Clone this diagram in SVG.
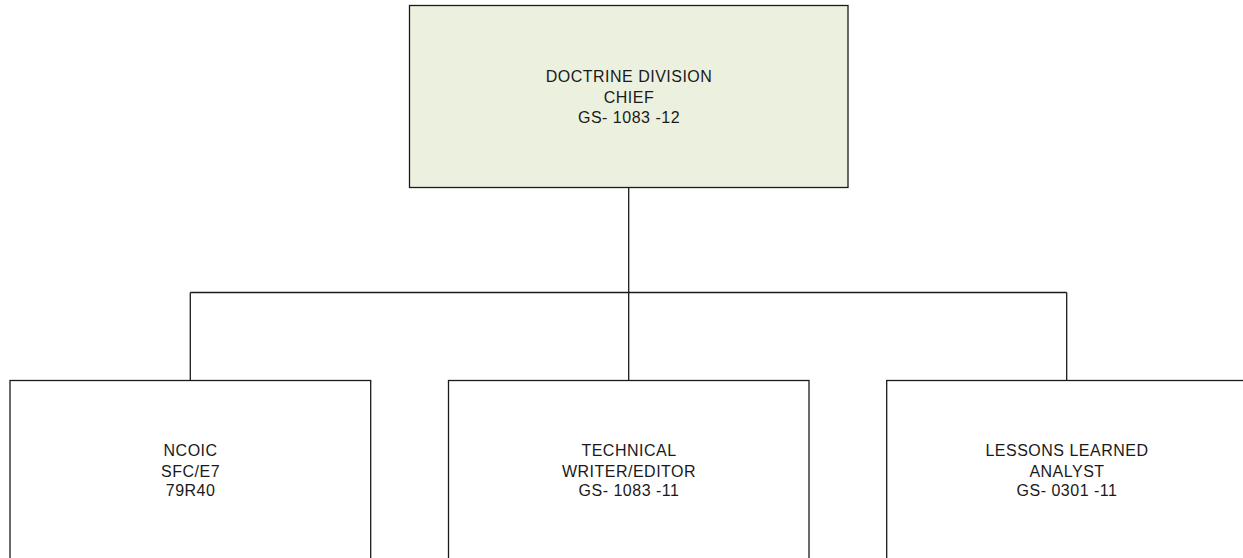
<svg xmlns="http://www.w3.org/2000/svg" width="1243" height="558" viewBox="0 0 1243 558">
<style>
.box{fill:#ffffff;stroke:#1a1a1a;stroke-width:1.3}
.top{fill:#ebf1de}
.conn{fill:none;stroke:#1a1a1a;stroke-width:1.3}
text{font-family:"Liberation Sans",Arial,sans-serif;font-size:16px;letter-spacing:0.5px;fill:#1a1a1a;text-anchor:middle}
</style>
<rect width="1243" height="558" fill="#ffffff"/>
<g id="connectors">
<line class="conn" x1="628.7" y1="187.5" x2="628.7" y2="380.5"/>
<line class="conn" x1="190.3" y1="292.5" x2="1066.7" y2="292.5"/>
<line class="conn" x1="190.3" y1="292.5" x2="190.3" y2="380.5"/>
<line class="conn" x1="1066.7" y1="292.5" x2="1066.7" y2="380.5"/>
</g>
<g id="chief">
<rect class="box top" x="409.5" y="5.5" width="438.5" height="182"/>
<text x="629" y="82">DOCTRINE DIVISION</text>
<text x="629" y="102.5">CHIEF</text>
<text x="629" y="123">GS- 1083 -12</text>
</g>
<g id="ncoic">
<rect class="box" x="10" y="380.5" width="360.7" height="200"/>
<text x="190.6" y="456">NCOIC</text>
<text x="190.6" y="476.5">SFC/E7</text>
<text x="190.6" y="496">79R40</text>
</g>
<g id="writer">
<rect class="box" x="448.5" y="380.5" width="360.5" height="200"/>
<text x="629" y="456">TECHNICAL</text>
<text x="629" y="476.5">WRITER/EDITOR</text>
<text x="629" y="496">GS- 1083 -11</text>
</g>
<g id="analyst">
<rect class="box" x="886.7" y="380.5" width="360" height="200"/>
<text x="1067" y="456">LESSONS LEARNED</text>
<text x="1067" y="476.5">ANALYST</text>
<text x="1067" y="496">GS- 0301 -11</text>
</g>
</svg>
